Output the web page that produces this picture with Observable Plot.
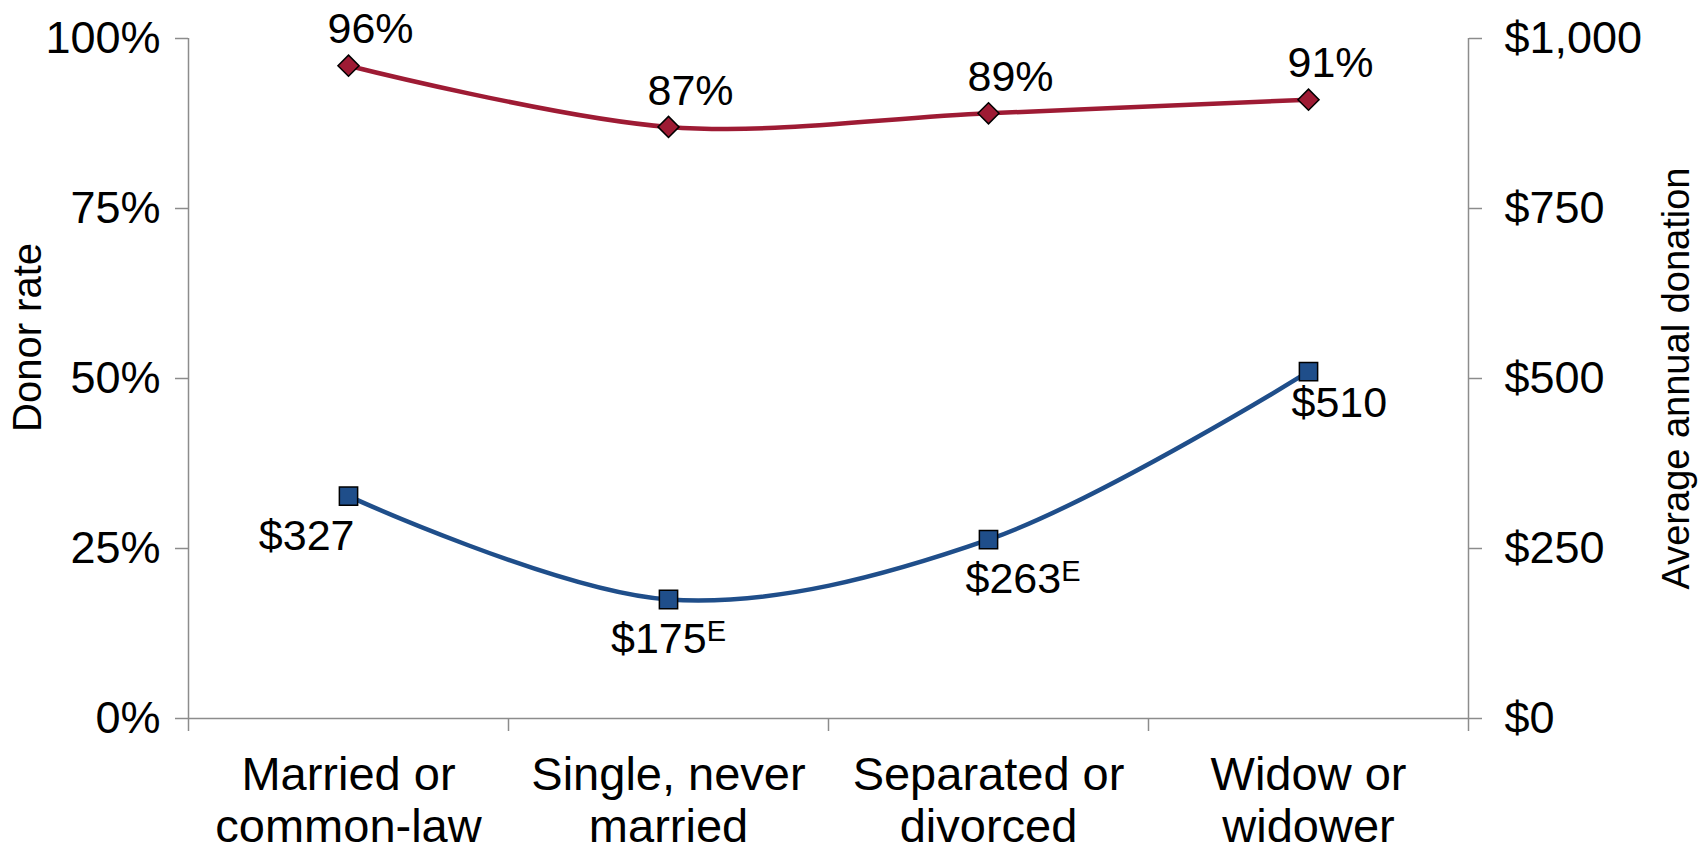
<!DOCTYPE html>
<html>
<head>
<meta charset="utf-8">
<script src="https://cdn.jsdelivr.net/npm/d3@7"></script>
<script src="https://cdn.jsdelivr.net/npm/@observablehq/plot@0.6"></script>
<style>
  html, body { margin: 0; padding: 0; background: #ffffff; }
  #chart { width: 1698px; height: 848px; }
</style>
</head>
<body>
<div id="chart"></div>
<script>
// ---- Data ----
const categories = ["Married or\ncommon-law", "Single, never\nmarried", "Separated or\ndivorced", "Widow or\nwidower"];
const donorRate = [96, 87, 89, 91];            // percent
const avgDonation = [327, 175, 263, 510];      // dollars
const donationFlag = ["", "E", "E", ""];        // "E" = use with caution
const rateTicks = [0, 25, 50, 75, 100];
const donationTicks = [0, 250, 500, 750, 1000];
const donationMax = 1000;
const leftTitle = "Donor rate";
const rightTitle = "Average annual donation";

// ---- Styling ----
const red = "#9e1b34";
const blue = "#1f4e8a";
const axisColor = "#8c8c8c";
const font = "'Liberation Sans', Arial, Helvetica, sans-serif";

const rows = categories.map((c, i) => ({
  i,
  pos: i + 0.5,
  category: c,
  rate: donorRate[i] / 100,
  donation: avgDonation[i] / donationMax,
  rateLabel: donorRate[i] + "%",
  donationLabel: "$" + avgDonation[i] + (donationFlag[i] ? "^" + donationFlag[i] : "")
}));

const centers = rows.map(d => d.pos);
const bounds = d3.range(categories.length + 1);

const chart = Plot.plot({
  width: 1698,
  height: 848,
  marginLeft: 188,
  marginRight: 230,
  marginTop: 38,
  marginBottom: 130,
  x: {domain: [0, categories.length]},
  y: {domain: [0, 1]},
  style: {fontFamily: font, background: "#ffffff", color: "#000000"},
  marks: [
    // axis lines
    Plot.ruleX([0, categories.length], {stroke: axisColor, strokeWidth: 1.5}),
    Plot.ruleY([0], {stroke: axisColor, strokeWidth: 1.5}),
    // left axis
    Plot.axisY(rateTicks.map(t => t / 100), {
      anchor: "left", tickSize: 13, tickPadding: 15, stroke: axisColor, strokeWidth: 1.5,
      fill: "#000000", fontSize: 45, label: null,
      tickFormat: d => Math.round(d * 100) + "%"
    }),
    // right axis
    Plot.axisY(donationTicks.map(t => t / donationMax), {
      anchor: "right", tickSize: 13, tickPadding: 23, stroke: axisColor, strokeWidth: 1.5,
      fill: "#000000", fontSize: 45, label: null,
      tickFormat: d => "$" + d3.format(",")(Math.round(d * donationMax))
    }),
    // x boundary ticks
    Plot.axisX(bounds, {
      tickSize: 13, stroke: axisColor, strokeWidth: 1.5, label: null, tickFormat: () => ""
    }),
    // category labels
    Plot.axisX(centers, {
      tickSize: 0, tickPadding: 35, fontSize: 47, lineHeight: 1.1, label: null, fill: "#000000",
      tickFormat: d => categories[Math.floor(d)]
    }),
    // axis titles
    Plot.text([leftTitle], {frameAnchor: "left", textAnchor: "middle", rotate: -90, dx: -160, dy: -41, fontSize: 40, fill: "#000000"}),
    Plot.text([rightTitle], {frameAnchor: "right", textAnchor: "middle", rotate: -90, dx: 208, fontSize: 38, fill: "#000000"}),
    // donor rate line
    Plot.line(rows, {x: "pos", y: "rate", curve: "catmull-rom", stroke: red, strokeWidth: 4.5}),
    Plot.dot(rows, {x: "pos", y: "rate", symbol: "diamond2", r: 9.5, fill: red, stroke: "#000000", strokeWidth: 1.5}),
    Plot.text(rows, {x: "pos", y: "rate", text: "rateLabel", dx: 22, dy: -36, fontSize: 43, fill: "#000000"}),
    // donation line
    Plot.line(rows, {x: "pos", y: "donation", curve: "catmull-rom", stroke: blue, strokeWidth: 4.5}),
    Plot.dot(rows, {x: "pos", y: "donation", symbol: "square", r: 10.3, fill: blue, stroke: "#000000", strokeWidth: 1.5}),
    Plot.text(rows, {filter: d => d.i === 0, x: "pos", y: "donation", text: "donationLabel", textAnchor: "end", dx: 6, dy: 40, fontSize: 43, fill: "#000000"}),
    Plot.text(rows, {filter: d => d.i === 1, x: "pos", y: "donation", text: "donationLabel", textAnchor: "middle", dy: 40, fontSize: 43, fill: "#000000"}),
    Plot.text(rows, {filter: d => d.i === 2, x: "pos", y: "donation", text: "donationLabel", textAnchor: "start", dx: -23, dy: 40, fontSize: 43, fill: "#000000"}),
    Plot.text(rows, {filter: d => d.i === 3, x: "pos", y: "donation", text: "donationLabel", textAnchor: "start", dx: -17, dy: 32, fontSize: 43, fill: "#000000"})
  ]
});

// superscript "E" flags
d3.select(chart).selectAll("text").each(function() {
  const t = this.textContent;
  if (t.includes("^") && this.children.length === 0) {
    const [main, sup] = t.split("^");
    this.textContent = main;
    const ts = document.createElementNS("http://www.w3.org/2000/svg", "tspan");
    ts.setAttribute("font-size", "29");
    ts.setAttribute("dy", "-12");
    ts.textContent = sup;
    this.appendChild(ts);
  }
});

document.getElementById("chart").appendChild(chart);
</script>
</body>
</html>
